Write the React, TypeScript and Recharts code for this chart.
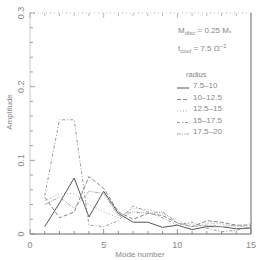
import { LineChart, Line, XAxis, YAxis } from 'recharts';

// mode numbers along the x axis
const modes = [1, 2, 3, 4, 5, 6, 7, 8, 9, 10, 11, 12, 13, 14, 15];

// amplitude per radius band
const r7510 = [0.010, 0.042, 0.076, 0.023, 0.058, 0.028, 0.016, 0.016, 0.009, 0.012, 0.006, 0.010, 0.010, 0.007, 0.008];
const r10125 = [0.050, 0.022, 0.030, 0.078, 0.062, 0.030, 0.020, 0.028, 0.025, 0.015, 0.010, 0.018, 0.016, 0.012, 0.012];
const r12515 = [0.045, 0.055, 0.055, 0.040, 0.030, 0.022, 0.035, 0.033, 0.028, 0.018, 0.012, 0.014, 0.014, 0.010, 0.014];
const r15175 = [0.052, 0.155, 0.155, 0.012, 0.010, 0.018, 0.038, 0.030, 0.022, 0.012, 0.016, 0.008, 0.003, 0.005, 0.010];
const r17520 = [0.040, 0.050, 0.035, 0.058, 0.055, 0.025, 0.030, 0.028, 0.030, 0.015, 0.010, 0.012, 0.010, 0.012, 0.008];

const radiusLabels = ['7.5\u201310', '10\u201312.5', '12.5\u201315', '15\u201317.5', '17.5\u201320'];

const xTicks = [0, 1, 2, 3, 4, 5, 6, 7, 8, 9, 10, 11, 12, 13, 14, 15];
const xLabels = [0, 5, 10, 15];
const yTicks = [0, 0.02, 0.04, 0.06, 0.08, 0.1, 0.12, 0.14, 0.16, 0.18, 0.2, 0.22, 0.24, 0.26, 0.28, 0.3];
const yLabels = ['0', '0.1', '0.2', '0.3'];

const series = [
  { key: 'a', name: radiusLabels[0], values: r7510, color: '#555', dash: undefined },
  { key: 'b', name: radiusLabels[1], values: r10125, color: '#888', dash: '4 2' },
  { key: 'c', name: radiusLabels[2], values: r12515, color: '#aaa', dash: '1 2' },
  { key: 'd', name: radiusLabels[3], values: r15175, color: '#999', dash: '3 2 1 2' },
  { key: 'e', name: radiusLabels[4], values: r17520, color: '#aaa', dash: '4 1 1 1 1 1' },
];

const data = modes.map((m, i) => {
  const row: Record<string, number> = { mode: m };
  series.forEach(s => { row[s.key] = s.values[i]; });
  return row;
});

const FONT = '"Liberation Sans", Arial, sans-serif';
const TXT = '#888';

const BottomTick = ({ x, y, payload }: any) => {
  const major = xLabels.includes(payload.value);
  return (
    <g>
      <line x1={x} x2={x} y1={y} y2={y - (major ? 5 : 3)} stroke="#777" strokeWidth={0.8} />
      {major && (
        <text x={x} y={y + 14} textAnchor="middle" fontSize={9} fill={TXT} fontFamily={FONT}>{payload.value}</text>
      )}
    </g>
  );
};

const TopTick = ({ x, y, payload }: any) => {
  const major = xLabels.includes(payload.value);
  return <line x1={x} x2={x} y1={y} y2={y + (major ? 5 : 3)} stroke="#aaa" strokeWidth={0.8} />;
};

const LeftTick = ({ x, y, payload }: any) => {
  const v = Math.round(payload.value * 100) / 100;
  const label = yLabels.find(l => Number(l) === v);
  const major = label !== undefined;
  return (
    <g>
      <line x1={x} x2={x + (major ? 5 : 3)} y1={y} y2={y} stroke="#888" strokeWidth={0.8} />
      {major && (
        <text transform={`translate(${x - 6},${y}) rotate(-90)`} textAnchor="middle" fontSize={9} fill={TXT} fontFamily={FONT}>{label}</text>
      )}
    </g>
  );
};

const RightTick = ({ x, y, payload }: any) => {
  const v = Math.round(payload.value * 100) / 100;
  const major = yLabels.some(l => Number(l) === v);
  return <line x1={x} x2={x - (major ? 5 : 3)} y1={y} y2={y} stroke="#777" strokeWidth={0.8} />;
};

export default function App() {
  return (
    <div style={{ position: 'absolute', left: 0, top: 0, width: 273, height: 260, background: '#fff' }}>
      <LineChart width={273} height={260} data={data} margin={{ top: 0, right: 0, left: 0, bottom: 0 }}>
        <XAxis dataKey="mode" type="number" domain={[0, 15]} ticks={xTicks} interval={0}
          tickSize={0} tickMargin={0} tickLine={false} tick={<BottomTick />}
          axisLine={{ stroke: '#666' }} height={26} />
        <XAxis xAxisId="top" orientation="top" dataKey="mode" type="number" domain={[0, 15]} ticks={xTicks} interval={0}
          tickSize={0} tickMargin={0} tickLine={false} tick={<TopTick />}
          axisLine={{ stroke: '#bbb', strokeDasharray: '1 3' }} height={13} />
        <YAxis type="number" domain={[0, 0.3]} ticks={yTicks} interval={0}
          tickSize={0} tickMargin={0} tickLine={false} tick={<LeftTick />}
          axisLine={{ stroke: '#ccc' }} width={30} />
        <YAxis yAxisId="right" orientation="right" type="number" domain={[0, 0.3]} ticks={yTicks} interval={0}
          tickSize={0} tickMargin={0} tickLine={false} tick={<RightTick />}
          axisLine={{ stroke: '#666' }} width={22} />
        {series.map(s => (
          <Line key={s.key} dataKey={s.key} name={s.name} type="linear" stroke={s.color}
            strokeWidth={1} strokeDasharray={s.dash} dot={false} isAnimationActive={false} />
        ))}
      </LineChart>
      <svg width={273} height={260} style={{ position: 'absolute', left: 0, top: 0, pointerEvents: 'none' }}
        fontFamily={FONT} fill={TXT}>
        <text transform="translate(12,112) rotate(-90)" textAnchor="middle" fontSize={8}>Amplitude</text>
        <text x={140} y={257} textAnchor="middle" fontSize={8}>Mode number</text>
        <text x={178} y={33} fontSize={8}>
          M<tspan fontSize={6} dy={2}>disc</tspan><tspan dy={-2}>{' = 0.25 M'}</tspan><tspan fontSize={6} dy={2}>*</tspan>
        </text>
        <text x={178} y={51} fontSize={8}>
          t<tspan fontSize={6} dy={2}>cool</tspan><tspan dy={-2}>{' = 7.5 \u03A9'}</tspan><tspan fontSize={6} dy={-3}>{'\u22121'}</tspan>
        </text>
        <text x={186} y={77} fontSize={7.5}>radius</text>
        {series.map((s, i) => {
          const yy = 88 + i * 11.5;
          return (
            <g key={s.key}>
              <line x1={177} x2={189} y1={yy} y2={yy} stroke={s.color} strokeWidth={1} strokeDasharray={s.dash} />
              <text x={193} y={yy} fontSize={8}>{s.name}</text>
            </g>
          );
        })}
      </svg>
    </div>
  );
}
